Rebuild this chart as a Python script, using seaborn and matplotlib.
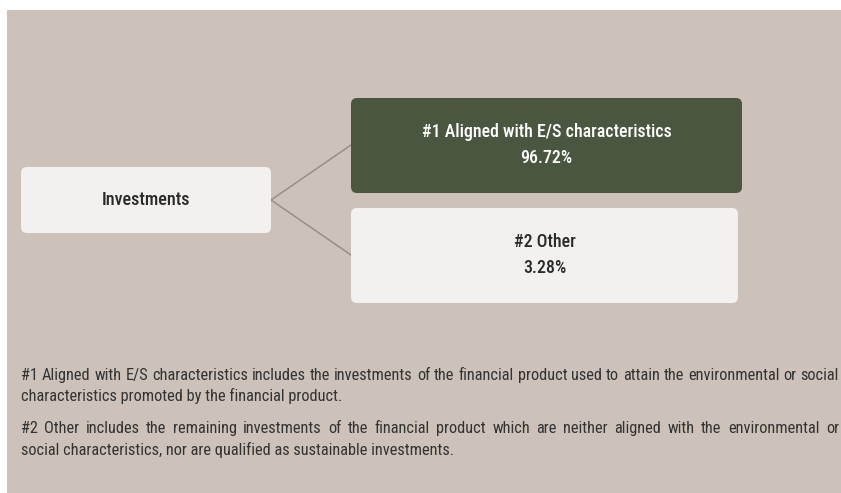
import pandas as pd
import seaborn as sns
import matplotlib
matplotlib.use("Agg")
import matplotlib.pyplot as plt
from matplotlib.patches import FancyBboxPatch, Rectangle

# data
root_label = "Investments"
categories = ["#1 Aligned with E/S characteristics", "#2 Other"]
shares = [96.72, 3.28]
footnotes = [
    ["#1 Aligned with E/S characteristics includes the investments of the financial product used to attain the environmental or social",
     "characteristics promoted by the financial product."],
    ["#2 Other includes the remaining investments of the financial product which are neither aligned with the environmental or",
     "social characteristics, nor are qualified as sustainable investments."],
]

sns.set_theme(style="white")
plt.rcParams["font.family"] = ["Roboto Condensed", "DejaVu Sans"]

BG = "#CCC2B9"
GREEN = "#4B5640"
BOX = "#F3F1EF"
LINE = "#9A8E86"
TEXT = "#2A2A2A"

fig = plt.figure(figsize=(8.41, 4.93), dpi=100)
ax = fig.add_axes([0, 0, 1, 1])

ax.add_patch(Rectangle((7, 10), 834, 483, facecolor=BG, edgecolor="none", zorder=0))

# connectors
conn = pd.DataFrame({
    "x": [271, 351, 271, 351],
    "y": [200, 145, 200, 255],
    "branch": [categories[0], categories[0], categories[1], categories[1]],
})
sns.lineplot(data=conn, x="x", y="y", units="branch", estimator=None,
             color=LINE, linewidth=1.1, ax=ax, zorder=1)
ax.set_xlim(0, 841)
ax.set_ylim(493, 0)
ax.axis("off")


def box(x0, y0, w, h, fc):
    ax.add_patch(FancyBboxPatch((x0, y0), w, h,
                                boxstyle="round,pad=0,rounding_size=6",
                                facecolor=fc, edgecolor="none", zorder=2))


# root box
box(21, 167, 250, 66, BOX)
ax.text(146, 200, root_label, ha="center", va="center", fontsize=13,
        fontweight="medium", color=TEXT, zorder=3)

# branch boxes
specs = [(351, 98, 391, 95, GREEN, "white", 132, 158),
         (351, 208, 387, 95, BOX, TEXT, 242, 268)]
for cat, val, (x0, y0, w, h, fc, tc, t1, t2) in zip(categories, shares, specs):
    box(x0, y0, w, h, fc)
    ax.text(x0 + w / 2, t1, cat, ha="center", va="center", fontsize=12.9,
            fontweight="medium", color=tc, zorder=3)
    ax.text(x0 + w / 2, t2, f"{val:.2f}%", ha="center", va="center", fontsize=12.9,
            fontweight="medium", color=tc, zorder=3)

# footnotes: first line of each paragraph justified to the right edge
FS = 11.8
LEFT, RIGHT = 21, 839
renderer = fig.canvas.get_renderer()
baselines = [[380, 401], [433, 455]]
for para, yy in zip(footnotes, baselines):
    first, rest = para[0], para[1]
    words = first.split(" ")
    arts = [ax.text(0, yy[0], w, ha="left", va="baseline", fontsize=FS,
                    color="#333333", zorder=3) for w in words]
    widths = [a.get_window_extent(renderer).width for a in arts]
    gap = (RIGHT - LEFT - sum(widths)) / (len(words) - 1)
    x = LEFT
    for a, wd in zip(arts, widths):
        a.set_x(x)
        x += wd + gap
    ax.text(LEFT, yy[1], rest, ha="left", va="baseline", fontsize=FS,
            color="#333333", zorder=3)

fig.savefig("out.png", dpi=100, facecolor="white")
